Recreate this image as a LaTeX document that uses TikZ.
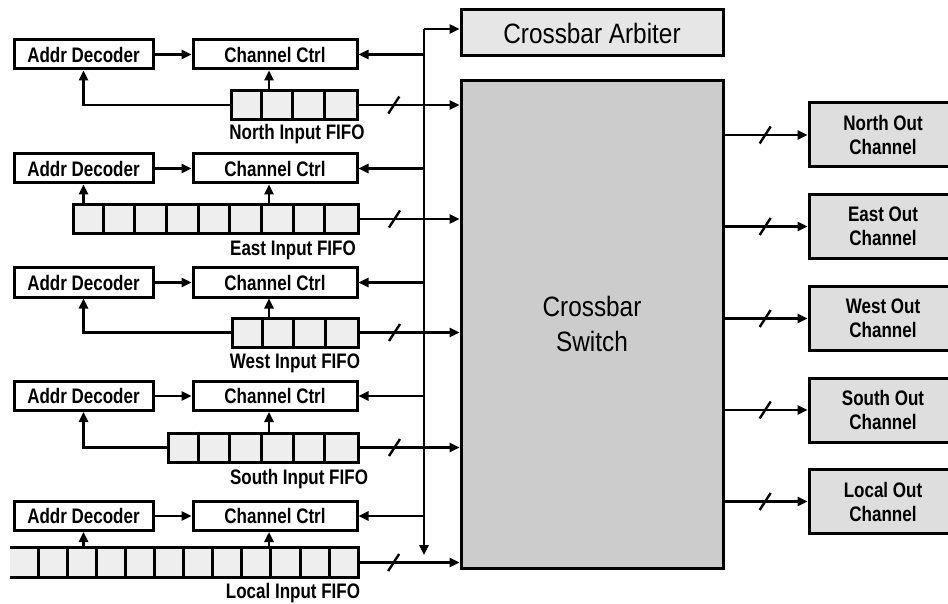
\documentclass[tikz,border=0pt]{standalone}
\usepackage{fontspec}
\setmainfont{Liberation Sans}
\newfontfamily\cnd[FakeStretch=0.81]{Liberation Sans}
\newfontfamily\cnr[FakeStretch=0.87]{Liberation Sans}
\usetikzlibrary{arrows.meta,calc}
\definecolor{fifog}{HTML}{EEEEEE}
\definecolor{arbg}{HTML}{E6E6E6}
\definecolor{swg}{HTML}{CCCCCC}
\definecolor{outg}{HTML}{DEDEDE}
\tikzset{
  bw/.style={line width=3pt},
  box/.style={draw, bw, inner sep=0pt, font=\cnd\bfseries\fontsize{21}{24}\selectfont},
  dec/.style={box, fill=white, minimum width=139pt, minimum height=29pt},
  ctl/.style={box, fill=white, minimum width=164pt, minimum height=29pt},
  outb/.style={box, fill=outg, minimum width=148pt, minimum height=64pt, align=center},
  fifo/.style={draw, bw, fill=fifog, inner sep=0pt, minimum height=29pt},
  flabel/.style={anchor=base, inner sep=0pt, font=\cnd\bfseries\fontsize{21}{24}\selectfont},
  conn/.style={line width=2.4pt},
  arr/.style={conn, -{Triangle[length=10pt,width=9pt]}},
}
\newcommand\busslash[1]{\draw[conn] ($(#1)+(-5.5,8.5)$) -- ++(11,-17);}
\begin{document}
\begin{tikzpicture}[x=1pt,y=-1pt]
\useasboundingbox (0,0) rectangle (948,604);

% central blocks
\node[draw, bw, fill=arbg, minimum width=262pt, minimum height=46pt, inner sep=0pt,
      font=\cnr\fontsize{28}{34}\selectfont] (arb) at (592,33) {Crossbar Arbiter};
\node[draw, bw, fill=swg, minimum width=262pt, minimum height=487pt, inner sep=0pt] (sw) at (592,324.5) {};
\node[inner sep=0pt, align=center, font=\cnr\fontsize{28}{35}\selectfont] (swt) at (592,324) {Crossbar\\Switch};

% decoders and channel controllers
\foreach \n/\y in {N/54.5, E/168.5, W/282.5, S/396, L/516}{
  \node[dec] (a\n) at (83.5,\y) {Addr Decoder};
  \node[ctl] (c\n) at (275,\y) {Channel Ctrl};
  \draw[arr] (a\n.east) -- (c\n.west);
}

% FIFOs
\node[fifo, minimum width=126pt] (fN) at (294,105) {};
\foreach \k in {1,2,3} \draw[bw] ($(fN.north west)+(\k*31.5,0)$) -- ($(fN.south west)+(\k*31.5,0)$);
\node[fifo, minimum width=285pt] (fE) at (215.5,219) {};
\foreach \k in {1,...,8} \draw[bw] ($(fE.north west)+(\k*31.67,0)$) -- ($(fE.south west)+(\k*31.67,0)$);
\node[fifo, minimum width=126pt] (fW) at (295,332.5) {};
\foreach \k in {1,2,3} \draw[bw] ($(fW.north west)+(\k*31.5,0)$) -- ($(fW.south west)+(\k*31.5,0)$);
\node[fifo, minimum width=190pt] (fS) at (263,447.5) {};
\foreach \k in {1,...,5} \draw[bw] ($(fS.north west)+(\k*31.67,0)$) -- ($(fS.south west)+(\k*31.67,0)$);
\node[fill=fifog, inner sep=0pt, minimum height=29pt, minimum width=348pt] (fL) at (184,562.5) {};
\draw[bw] (fL.north west) -- (fL.north east) -- (fL.south east) -- (fL.south west);
\foreach \k in {1,...,11} \draw[bw] ($(fL.north east)-(\k*29.1,0)$) -- ($(fL.south east)-(\k*29.1,0)$);

% FIFO labels
\node[flabel] (lN) at (297,140) {North Input FIFO};
\node[flabel] (lE) at (293,255) {East Input FIFO};
\node[flabel] (lW) at (295,368) {West Input FIFO};
\node[flabel] (lS) at (299,484) {South Input FIFO};
\node[flabel] (lL) at (293,598) {Local Input FIFO};

% FIFO -> channel ctrl / addr decoder
\foreach \n in {N,E,W,S,L}{
  \draw[arr] ([xshift=-6pt]c\n.south |- f\n.north) -- ([xshift=-6pt]c\n.south);
}
\draw[arr] (fN.west) -| (aN.south);
\draw[arr] (aE.south |- fE.north) -- (aE.south);
\draw[arr] (fW.west) -| (aW.south);
\draw[arr] (fS.west) -| (aS.south);
\draw[arr] (aL.south |- fL.north) -- (aL.south);

% FIFO -> switch
\foreach \n in {N,E,W,S,L}{
  \draw[arr] (f\n.east) -- coordinate[pos=0.35] (s\n) (sw.west |- f\n.east);
  \busslash{s\n}
}

% arbiter bus
\coordinate (bt) at (424,29);
\coordinate (bb) at (424,555);
\draw[arr] (bt) -- (arb.west |- bt);
\draw[arr] (bt) -- (bb);
\foreach \n in {N,E,W,S,L}{
  \draw[arr] (bt |- c\n.east) -- (c\n.east);
}

% output channels
\foreach \n/\t/\y in {N/North/135, E/East/226.5, W/West/318.5, S/South/410, L/Local/501.5}{
  \node[outb] (o\n) at (883,\y) {\t{} Out\\Channel};
  \draw[arr] (sw.east |- o\n.west) -- coordinate[pos=0.49] (t\n) (o\n.west);
  \busslash{t\n}
}
\end{tikzpicture}
\end{document}
